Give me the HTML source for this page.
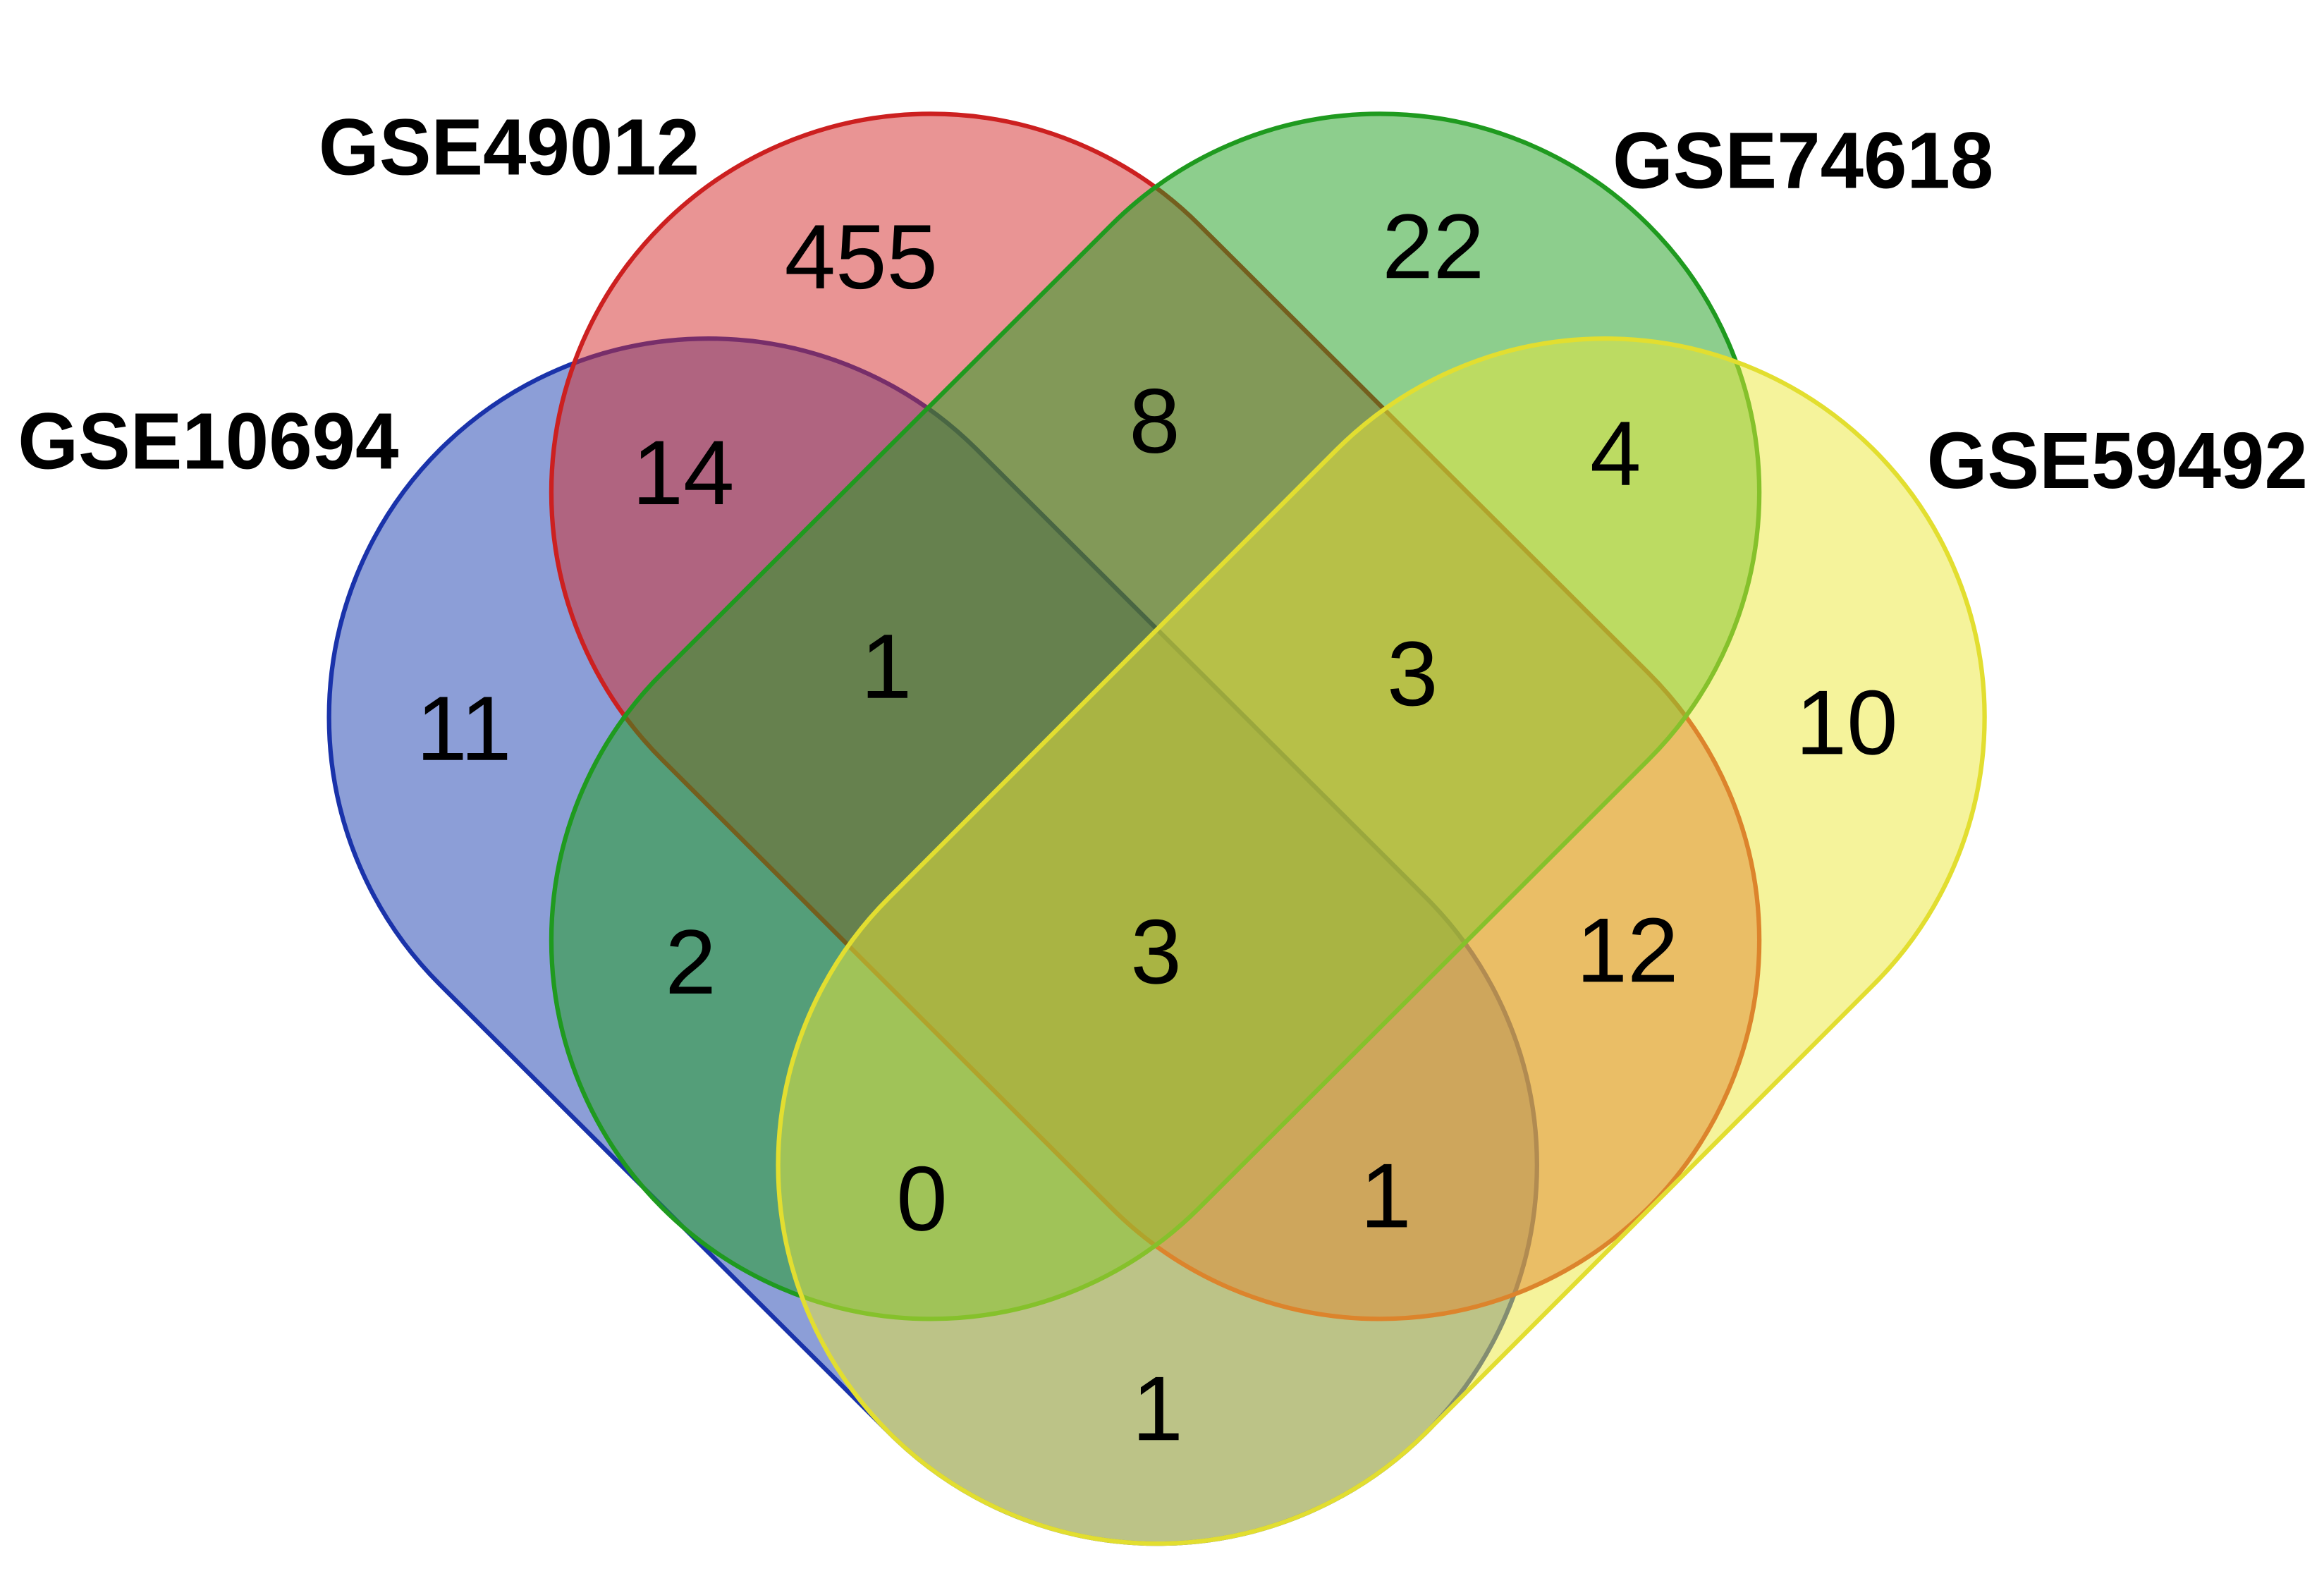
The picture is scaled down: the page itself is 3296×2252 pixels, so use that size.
<!DOCTYPE html>
<html><head><meta charset="utf-8">
<style>
html,body{margin:0;padding:0;background:#fff;width:3296px;height:2252px;overflow:hidden;}
svg{display:block;vertical-align:top;}
</style></head>
<body>
<svg id="venn" width="3296" height="2252" viewBox="0 0 1568 1074" preserveAspectRatio="none" xmlns="http://www.w3.org/2000/svg">
<rect width="1568" height="1074" fill="#fff"/>
<g id="shapes"></g>
<g id="labels"></g>
<g id="counts"></g>
</svg>
<script>
const setNames = ["GSE10694","GSE49012","GSE74618","GSE59492"];
const regionCounts = [455,22,14,8,4,11,1,3,10,2,3,12,0,1,1];

const NS="http://www.w3.org/2000/svg";
const R=256;
const shapes=[
 {c1:[478,485],c2:[781,788],fill:"#1a3eb0",stroke:"#1a33aa"},
 {c1:[628,333],c2:[931,636],fill:"#d42a2a",stroke:"#cc2020"},
 {c1:[931,333],c2:[628,636],fill:"#1c9e1c",stroke:"#1f9a1f"},
 {c1:[1083,485],c2:[781,788],fill:"#ebe838",stroke:"#e2de30"}
];
const gS=document.getElementById('shapes');
function P(p){return p[0].toFixed(2)+' '+p[1].toFixed(2);}
shapes.forEach((s,i)=>{
  const dx=s.c2[0]-s.c1[0], dy=s.c2[1]-s.c1[1];
  const L=Math.hypot(dx,dy);
  const u=[dx/L,dy/L], n=[-u[1],u[0]];
  const a=(c,k,v)=>[c[0]+k*v[0]*R,c[1]+k*v[1]*R];
  const p1=a(s.c1,1,n), p2=a(s.c2,1,n), t2=a(s.c2,1,u), p3=a(s.c2,-1,n), p4=a(s.c1,-1,n), t1=a(s.c1,-1,u);
  const d=`M ${P(p1)} L ${P(p2)} A ${R} ${R} 0 0 0 ${P(t2)} A ${R} ${R} 0 0 0 ${P(p3)} L ${P(p4)} A ${R} ${R} 0 0 0 ${P(t1)} A ${R} ${R} 0 0 0 ${P(p1)} Z`;
  const r=document.createElementNS(NS,'path');
  r.setAttribute('d',d);
  r.setAttribute('fill',s.fill);r.setAttribute('fill-opacity','0.5');
  r.setAttribute('stroke',s.stroke);r.setAttribute('stroke-width','3');
  
  
  gS.appendChild(r);
});
const labelPos=[[12,317],[215,118],[1088,127],[1300,330]];
const gL=document.getElementById('labels');
setNames.forEach((n,i)=>{
  const t=document.createElementNS(NS,'text');
  t.setAttribute('x',labelPos[i][0]);t.setAttribute('y',labelPos[i][1]);
  t.setAttribute('font-family','Liberation Sans, sans-serif');
  t.setAttribute('font-weight','bold');t.setAttribute('font-size','54');
  t.setAttribute('textLength','257');t.setAttribute('lengthAdjust','spacingAndGlyphs');
  t.textContent=n;
  
  
  gL.appendChild(t);
});
const countPos=[[581,195],[967,188],[461,341],[779,306],[1090,328],[313,514],[598,472],[953,477],[1246,510],[466,672],[780,665],[1098,664],[622,832],[935,830],[781,974]];
const gC=document.getElementById('counts');
regionCounts.forEach((v,i)=>{
  const t=document.createElementNS(NS,'text');
  t.setAttribute('x',countPos[i][0]);t.setAttribute('y',countPos[i][1]);
  t.setAttribute('text-anchor','middle');
  t.setAttribute('font-family','Liberation Sans, sans-serif');
  t.setAttribute('font-size','62');t.setAttribute('fill','#000');
  t.textContent=v;
  
  
  gC.appendChild(t);
});
</script>
</body></html>
